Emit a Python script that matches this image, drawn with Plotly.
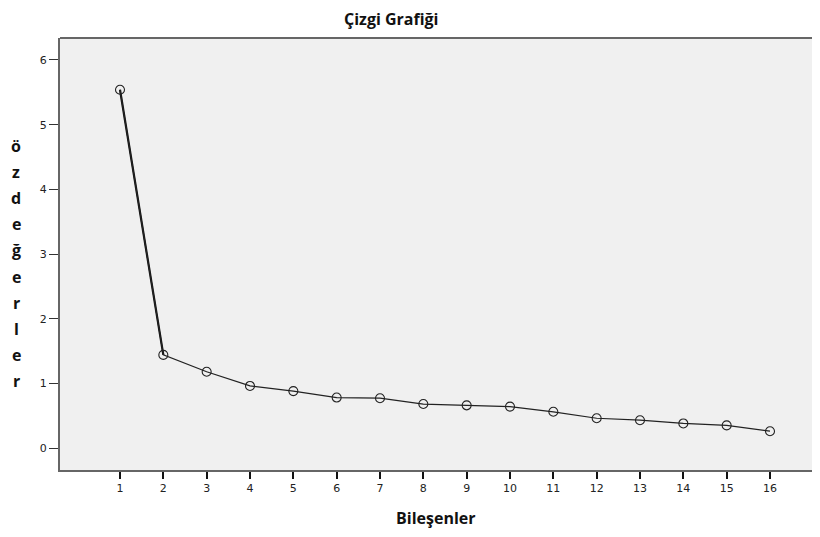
import plotly.graph_objects as go

components = list(range(1, 17))
eigenvalues = [5.54, 1.44, 1.18, 0.96, 0.88, 0.78, 0.77, 0.68, 0.66, 0.64, 0.56, 0.46, 0.43, 0.38, 0.35, 0.26]
y_ticks = [0, 1, 2, 3, 4, 5, 6]
title_text = "Çizgi Grafiği"
x_title = "Bileşenler"
y_title = "özdeğerler"

fig = go.Figure()
# steep first segment drawn heavier, as in the reference
fig.add_trace(go.Scatter(
    x=components[:2], y=eigenvalues[:2], mode="lines",
    line=dict(color="#111111", width=2.2), showlegend=False, hoverinfo="skip",
))
fig.add_trace(go.Scatter(
    x=components, y=eigenvalues, mode="lines+markers",
    line=dict(color="#222222", width=1.2),
    marker=dict(symbol="circle-open", size=9, color="#222222", line=dict(width=1.1)),
    showlegend=False,
))

# the page body adds an 8px offset on every side; keep the page from overflowing
OFF = 8
W, H = 820 - 2 * OFF, 537 - 2 * OFF
ml, mt = 60 - OFF, 38 - OFF
mb = H - (470 - OFF)
mr = 0
pw, ph = W - ml - mr, H - mt - mb


def px_x(x):
    return (x - OFF - ml) / pw


def px_y(y):
    return 1 - (y - OFF - mt) / ph


font_fam = "Open Sans"
annotations = [
    dict(text="<b>%s</b>" % title_text, xref="paper", yref="paper", x=px_x(391), y=px_y(18.5),
         showarrow=False, xanchor="center", yanchor="middle",
         font=dict(family=font_fam, size=16, color="#111111")),
    dict(text="<b>%s</b>" % x_title, xref="paper", yref="paper", x=px_x(436), y=px_y(518),
         showarrow=False, xanchor="center", yanchor="middle",
         font=dict(family=font_fam, size=16, color="#111111")),
]
for i, ch in enumerate(y_title):
    annotations.append(dict(text="<b>%s</b>" % ch, xref="paper", yref="paper",
                            x=px_x(16), y=px_y(146 + i * 26.1),
                            showarrow=False, xanchor="center", yanchor="middle",
                            font=dict(family=font_fam, size=16, color="#111111")))

# x scale: tick 1 at 120px, tick 16 at 770px in the reference
x_step = (770 - 120) / 15
x_left = 1 - (120 - 60) / x_step
x_right = 16 + (OFF + W - 770) / x_step

fig.update_layout(
    width=W, height=H,
    margin=dict(l=ml, r=mr, t=mt, b=mb, pad=0),
    paper_bgcolor="white", plot_bgcolor="#f0f0f0",
    annotations=annotations,
    xaxis=dict(range=[x_left, x_right], tickvals=components, ticks="outside", ticklen=7, tickwidth=2,
               tickcolor="#111111", showgrid=False, zeroline=False, showline=True,
               linecolor="#666666", linewidth=2, mirror=False,
               tickfont=dict(family="DejaVu Sans", size=11, color="#222222")),
    yaxis=dict(range=[-0.34, 6.34], tickvals=y_ticks, ticks="outside", ticklen=9, tickwidth=1,
               tickcolor="#333333", showgrid=False, zeroline=False, showline=True,
               linecolor="#666666", linewidth=2,
               tickfont=dict(family="DejaVu Sans", size=11, color="#222222")),
    shapes=[dict(type="line", xref="paper", yref="paper", x0=0, x1=1, y0=1, y1=1,
                 line=dict(color="#666666", width=2))],
)

fig.write_html("out.html")
